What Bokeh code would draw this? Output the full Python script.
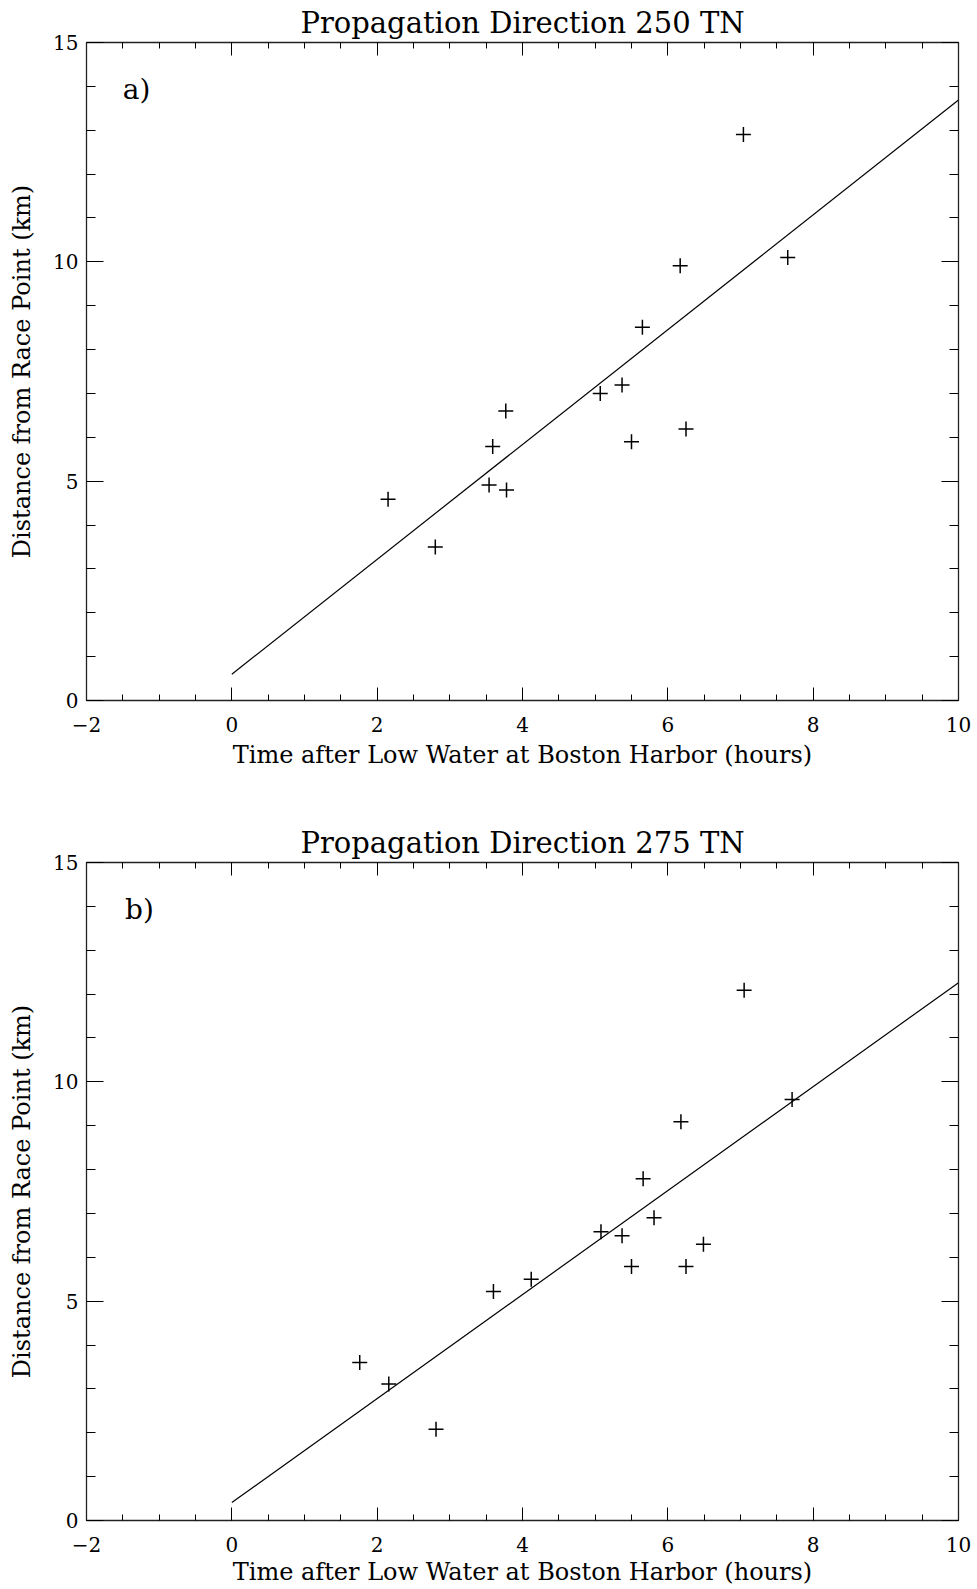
from bokeh.plotting import figure
from bokeh.models import Range1d, LinearAxis, Label, SingleIntervalTicker, CustomLabelingPolicy
from bokeh.layouts import column
from bokeh.embed import file_html
from bokeh.resources import INLINE

FONT = "DejaVu Serif"

# ---------------- data ----------------
titles = ["Propagation Direction 250 TN", "Propagation Direction 275 TN"]
panel_tags = ["a)", "b)"]
x_label = "Time after Low Water at Boston Harbor (hours)"
y_label = "Distance from Race Point (km)"

# panel a (250 TN)
time_a = [2.15, 2.80, 3.54, 3.78, 3.59, 3.77, 5.07, 5.37, 5.50, 5.65, 6.17, 6.25, 7.04, 7.65]
dist_a = [4.59, 3.50, 4.91, 4.80, 5.79, 6.60, 7.00, 7.19, 5.90, 8.51, 9.91, 6.19, 12.90, 10.10]
fit_time_a = [0.0, 10.0]
fit_dist_a = [0.60, 13.69]

# panel b (275 TN)
time_b = [1.76, 2.16, 2.81, 3.60, 4.12, 5.08, 5.37, 5.50, 5.66, 5.81, 6.18, 6.25, 6.49, 7.05, 7.71]
dist_b = [3.60, 3.11, 2.08, 5.22, 5.50, 6.58, 6.49, 5.79, 7.79, 6.90, 9.09, 5.79, 6.30, 12.09, 9.60]
fit_time_b = [0.0, 10.0]
fit_dist_b = [0.41, 12.26]

x_tick_labels = {-2: "\u22122", 0: "0", 2: "2", 4: "4", 6: "6", 8: "8", 10: "10"}

NO_LABELS = "for (const i of indices) { indices.unset(i) } return indices"


def style_axis(ax, is_x, show_labels):
    ax.axis_line_color = "#222222"
    ax.axis_line_width = 1.3
    ax.major_tick_line_color = "black"
    ax.minor_tick_line_color = "black"
    ax.major_tick_out = 0
    ax.minor_tick_out = 0
    if is_x:
        ax.ticker = SingleIntervalTicker(interval=2, num_minor_ticks=4)
        ax.major_tick_in = 13
        ax.minor_tick_in = 6
    else:
        ax.ticker = SingleIntervalTicker(interval=5, num_minor_ticks=5)
        ax.major_tick_in = 17
        ax.minor_tick_in = 9
    if show_labels:
        ax.major_label_text_font = FONT
        ax.major_label_text_font_size = "20px"
        ax.major_label_text_color = "black"
        ax.axis_label_text_font = FONT
        ax.axis_label_text_font_size = "24px"
        ax.axis_label_text_font_style = "normal"
        ax.axis_label_text_color = "black"
        if is_x:
            ax.major_label_overrides = x_tick_labels
    else:
        ax.major_label_text_font_size = "0px"
        ax.major_label_standoff = 0
        ax.major_label_policy = CustomLabelingPolicy(code=NO_LABELS)


def make_panel(title, tag, xs, ys, fx, fy, height, border_top, border_bottom, border_left,
               frame_w, x_label_standoff, tag_x):
    width = 975
    p = figure(width=width, height=height,
               x_range=Range1d(-2, 10), y_range=Range1d(0, 15),
               output_backend="svg", toolbar_location=None,
               min_border_top=border_top, min_border_bottom=border_bottom,
               min_border_left=border_left, min_border_right=width - border_left - frame_w,
               title=title)
    p.title.text_font = FONT
    p.title.text_font_size = "29px"
    p.title.text_font_style = "normal"
    p.title.text_color = "black"
    p.title.align = "center"
    p.title.standoff = 6
    p.xgrid.visible = False
    p.ygrid.visible = False
    p.outline_line_color = None
    p.background_fill_color = "white"
    p.border_fill_color = "white"

    xa = p.xaxis[0]
    ya = p.yaxis[0]
    style_axis(xa, True, True)
    style_axis(ya, False, True)
    xa.axis_label = x_label
    ya.axis_label = y_label
    xa.major_label_standoff = 16
    xa.axis_label_standoff = x_label_standoff
    ya.major_label_standoff = 8
    ya.axis_label_standoff = 14

    top = LinearAxis()
    style_axis(top, True, False)
    p.add_layout(top, "above")
    right = LinearAxis()
    style_axis(right, False, False)
    p.add_layout(right, "right")

    p.line(fx, fy, line_color="black", line_width=1.2)
    p.scatter(xs, ys, marker="cross", size=15, line_color="black", line_width=1.5)

    p.add_layout(Label(x=tag_x, y=13.92, text=tag, text_font=FONT, text_font_size="28px",
                       text_color="black", text_baseline="middle", text_align="left"))
    return p


p1 = make_panel(titles[0], panel_tags[0], time_a, dist_a, fit_time_a, fit_dist_a,
                height=820, border_top=42, border_bottom=120, border_left=85, frame_w=873,
                x_label_standoff=6, tag_x=-1.5)
p2 = make_panel(titles[1], panel_tags[1], time_b, dist_b, fit_time_b, fit_dist_b,
                height=769, border_top=42, border_bottom=69, border_left=86, frame_w=874,
                x_label_standoff=3, tag_x=-1.47)

layout = column(p1, p2, spacing=0)
open("out.html", "w").write(file_html(layout, INLINE))
